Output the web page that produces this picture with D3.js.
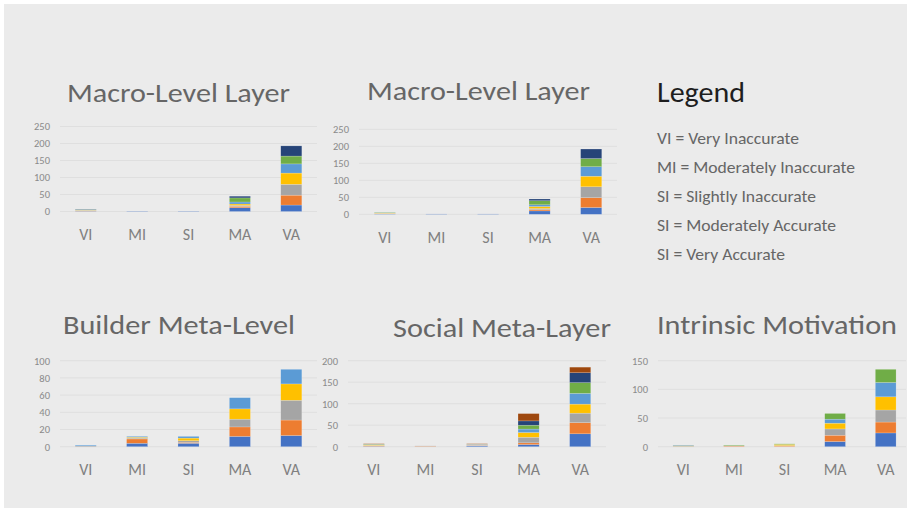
<!DOCTYPE html>
<html>
<head>
<meta charset="utf-8">
<script src="https://cdn.jsdelivr.net/npm/d3@7"></script>
<style>
  html, body { margin: 0; padding: 0; background: #ffffff; }
  svg { display: block; font-family: Carlito, Calibri, Lato, "Open Sans", sans-serif; }
</style>
</head>
<body>
<svg id="slide" width="911" height="512"></svg>
<script>
// Response categories shared by every panel
const categories = ["VI", "MI", "SI", "MA", "VA"];

// Stacked series per panel: one row per item, values for VI, MI, SI, MA, VA
const macroLayerA = [
  [1, 1, 1, 11, 19],
  [1, 0, 0, 4, 29],
  [1, 0, 0, 3, 32],
  [1, 0, 0, 4, 33],
  [1, 0, 0, 6, 27],
  [1, 0, 0, 12, 23],
  [1, 0, 0, 5, 30]
];
const macroLayerB = [
  [1, 1, 1, 10, 20],
  [1, 0, 0, 4, 29],
  [1, 0, 0, 3, 32],
  [1, 0, 0, 6, 31],
  [1, 0, 0, 5, 28],
  [1, 0, 0, 12, 24],
  [0, 0, 0, 5, 28]
];
const builderMeta = [
  [0, 4, 4, 12, 13],
  [0, 5, 1, 11, 18],
  [1, 1, 2, 9, 23],
  [0, 1, 3, 12, 19],
  [1, 1, 2, 13, 17]
];
const socialMeta = [
  [1, 0, 2, 5, 30],
  [1, 1, 1, 4, 26],
  [1, 1, 1, 13, 22],
  [1, 0, 1, 11, 21],
  [1, 0, 1, 8, 25],
  [1, 0, 0, 9, 25],
  [0, 0, 0, 10, 23],
  [1, 0, 1, 17, 13]
];
const intrinsicMotivation = [
  [0, 0, 0, 9, 24],
  [0, 1, 1, 11, 19],
  [1, 1, 1, 11, 21],
  [1, 0, 2, 10, 23],
  [1, 0, 0, 7, 25],
  [0, 1, 1, 10, 23]
];

// Axis tick values per panel
const ticks250 = [0, 50, 100, 150, 200, 250];
const ticks100 = [0, 20, 40, 60, 80, 100];
const ticks200 = [0, 50, 100, 150, 200];
const ticks150 = [0, 50, 100, 150];

// Legend text
const legendTitle = "Legend";
const legendItems = [
  "VI = Very Inaccurate",
  "MI = Moderately Inaccurate",
  "SI = Slightly Inaccurate",
  "SI = Moderately Accurate",
  "SI = Very Accurate"
];

// Office-style series palette
const palette = ["#4472c4", "#ed7d31", "#a5a5a5", "#ffc000", "#5b9bd5", "#70ad47", "#264478", "#9e480e"];

const svg = d3.select("#slide");

// slide background
svg.append("rect")
  .attr("x", 4).attr("y", 4).attr("width", 903).attr("height", 504)
  .attr("fill", "#ebebeb");

// Panel layout
const panels = [
  { title: "Macro-Level Layer", data: macroLayerA, ticks: ticks250,
    x0: 60, x1: 317, yBase: 211.5, yTop: 126.5, labelX: 50, catY: 240,
    titleX: 67, titleY: 102, titleW: 223 },
  { title: "Macro-Level Layer", data: macroLayerB, ticks: ticks250,
    x0: 359, x1: 617, yBase: 214.3, yTop: 129.3, labelX: 349, catY: 243,
    titleX: 367, titleY: 100, titleW: 223 },
  { title: "Builder Meta-Level", data: builderMeta, ticks: ticks100,
    x0: 60, x1: 317, yBase: 446.7, yTop: 360.7, labelX: 50, catY: 475,
    titleX: 63, titleY: 334, titleW: 232 },
  { title: "Social Meta-Layer", data: socialMeta, ticks: ticks200,
    x0: 348, x1: 606, yBase: 446.7, yTop: 360.7, labelX: 338, catY: 475,
    titleX: 393, titleY: 337, titleW: 218 },
  { title: "Intrinsic Motivation", data: intrinsicMotivation, ticks: ticks150,
    x0: 658, x1: 911, yBase: 446.7, yTop: 360.7, labelX: 648, catY: 475,
    titleX: 657, titleY: 334, titleW: 240 }
];

panels.forEach(p => {
  const g = svg.append("g");
  const maxTick = p.ticks[p.ticks.length - 1];

  const x = d3.scaleBand()
    .domain(categories)
    .range([p.x0, p.x1])
    .paddingInner(0.59)
    .paddingOuter(0.295);

  const y = d3.scaleLinear()
    .domain([0, maxTick])
    .range([p.yBase, p.yTop]);

  // gridlines
  g.append("g")
    .selectAll("line")
    .data(p.ticks)
    .join("line")
    .attr("x1", p.x0).attr("x2", Math.min(p.x1, 906))
    .attr("y1", d => y(d)).attr("y2", d => y(d))
    .attr("stroke", "#dfdfdf").attr("stroke-width", 1);

  // value axis labels
  const yAxis = d3.axisLeft(y).tickValues(p.ticks).tickSize(0).tickPadding(0);
  const ya = g.append("g")
    .attr("transform", `translate(${p.labelX},0)`)
    .call(yAxis);
  ya.select(".domain").remove();
  ya.selectAll("text")
    .attr("fill", "#8a8a8a")
    .style("font-size", "10.5px")
    .style("font-family", "Carlito, Calibri, Lato, sans-serif");

  // category axis labels
  const xAxis = d3.axisBottom(x).tickSize(0).tickPadding(0);
  const xa = g.append("g")
    .attr("transform", `translate(0,${p.catY})`)
    .call(xAxis);
  xa.select(".domain").remove();
  xa.selectAll("text")
    .attr("dy", 0)
    .attr("y", 0)
    .attr("fill", "#808080")
    .style("font-size", "16px")
    .style("font-weight", "300")
    .style("font-family", "Carlito, Calibri, Lato, sans-serif");

  // stacked bars
  const rows = categories.map((c, ci) => {
    const o = { cat: c };
    p.data.forEach((s, si) => { o["s" + si] = s[ci]; });
    return o;
  });
  const keys = p.data.map((s, si) => "s" + si);
  const stacked = d3.stack().keys(keys)(rows);

  g.append("g")
    .selectAll("g")
    .data(stacked)
    .join("g")
    .attr("fill", (d, i) => palette[i])
    .selectAll("rect")
    .data(d => d)
    .join("rect")
    .attr("x", d => x(d.data.cat))
    .attr("width", x.bandwidth())
    .attr("y", d => y(d[1]))
    .attr("height", d => Math.max(0, y(d[0]) - y(d[1])))
    .attr("stroke", "#ffffff")
    .attr("stroke-opacity", 0.35)
    .attr("stroke-width", 0.5);

  // panel title
  g.append("text")
    .attr("x", p.titleX).attr("y", p.titleY)
    .attr("fill", "#666666")
    .attr("textLength", p.titleW)
    .attr("lengthAdjust", "spacingAndGlyphs")
    .style("font-size", "27px")
    .style("font-weight", "300")
    .text(p.title);
});

// legend block
const lg = svg.append("g");
lg.append("text")
  .attr("x", 657).attr("y", 101.5)
  .attr("fill", "#1e1e1e")
  .attr("textLength", 88)
  .attr("lengthAdjust", "spacingAndGlyphs")
  .style("font-size", "28px")
  .text(legendTitle);

const legendWidths = [142, 198, 159, 179, 128];
lg.selectAll("text.item")
  .data(legendItems)
  .join("text")
  .attr("class", "item")
  .attr("x", 657)
  .attr("y", (d, i) => 144 + i * 29)
  .attr("fill", "#666666")
  .attr("textLength", (d, i) => legendWidths[i])
  .attr("lengthAdjust", "spacingAndGlyphs")
  .style("font-size", "15.5px")
  .text(d => d);
</script>
</body>
</html>
